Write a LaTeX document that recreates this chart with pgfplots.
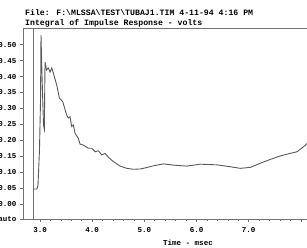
\documentclass[border=0pt]{standalone}
\usepackage{pgfplots}
\pgfplotsset{compat=1.18}
\usepackage{fontspec}
\setmainfont{Liberation Mono}
\definecolor{axgray}{gray}{0.45}
\definecolor{curvegray}{gray}{0.35}
\begin{document}
\begin{tikzpicture}
\node[anchor=west,inner sep=0pt,font=\fontsize{8.2}{9}\selectfont\bfseries] at (25pt,235pt) {File: F:\textbackslash MLSSA\textbackslash TEST\textbackslash TUBAJ1.TIM 4-11-94 4:16 PM};
\node[anchor=west,inner sep=0pt,font=\fontsize{8.2}{9}\selectfont\bfseries] at (25pt,225pt) {Integral of Impulse Response - volts};
\begin{axis}[
  at={(23pt,29pt)}, anchor=south west,
  scale only axis, width=330pt, height=191pt,
  xmin=2.674, xmax=9.0, ymin=-0.047, ymax=0.5524,
  axis line style={axgray, line width=0.8pt},
  every tick/.style={axgray, line width=0.6pt},
  tick align=outside,
  major tick length=3pt, minor tick length=2pt,
  xtick pos=bottom, ytick pos=left,
  xtick={3,4,5,6,7,8,9},
  xticklabels={3.0,4.0,5.0,6.0,7.0,,},
  minor x tick num=4,
  ytick={-0.047,0,0.05,0.10,0.15,0.20,0.25,0.30,0.35,0.40,0.45,0.50},
  yticklabels={auto,0.00,0.05,0.10,0.15,0.20,0.25,0.30,0.35,0.40,0.45,0.50},
  ticklabel style={font=\fontsize{7.5}{8}\selectfont\bfseries},
  xticklabel style={yshift=-2pt},
  clip=true,
]
\addplot[axgray, line width=0.8pt] coordinates {(2.866,-0.047) (2.866,0.5524)};
\addplot[curvegray, line width=0.9pt] coordinates {
(2.866,0.047) (2.942,0.047) (2.962,0.060) (2.990,0.170) (3.010,0.326)
(3.019,0.530) (3.038,0.405) (3.067,0.248) (3.083,0.235) (3.096,0.446)
(3.125,0.421) (3.159,0.427) (3.192,0.414) (3.225,0.427) (3.255,0.411)
(3.321,0.373) (3.370,0.333) (3.436,0.321) (3.512,0.279) (3.543,0.270)
(3.576,0.274) (3.608,0.243) (3.639,0.248) (3.672,0.222) (3.735,0.206)
(3.768,0.188) (3.831,0.185) (3.927,0.175) (3.992,0.175) (4.056,0.164)
(4.119,0.167) (4.184,0.154) (4.248,0.159) (4.311,0.147) (4.407,0.133)
(4.536,0.119) (4.664,0.112) (4.791,0.109) (4.919,0.110) (4.983,0.112)
(5.175,0.120) (5.367,0.126) (5.559,0.122) (5.816,0.119) (6.071,0.125)
(6.392,0.123) (6.647,0.117) (6.839,0.112) (7.031,0.115) (7.223,0.128)
(7.415,0.140) (7.607,0.151) (7.798,0.159) (7.927,0.164) (8.054,0.180)
(8.125,0.191) (8.221,0.207)
};
\end{axis}
\node[font=\fontsize{7.5}{8}\selectfont\bfseries] at (188pt,5pt) {Time - msec};
\pgfresetboundingbox
\useasboundingbox (0pt,0pt) rectangle (307pt,248pt);
\end{tikzpicture}
\end{document}
